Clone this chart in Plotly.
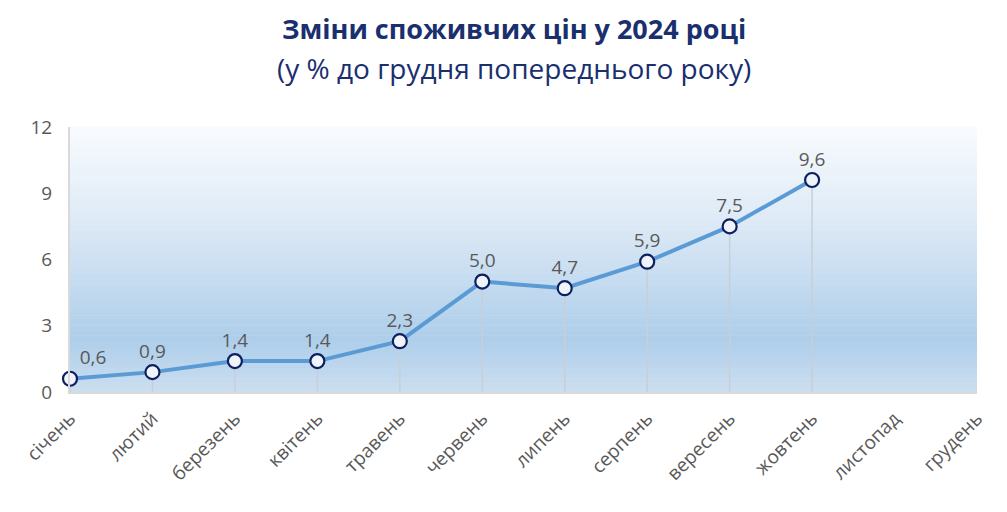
import plotly.graph_objects as go

months = ["січень", "лютий", "березень", "квітень", "травень", "червень",
          "липень", "серпень", "вересень", "жовтень", "листопад", "грудень"]
values = [0.6, 0.9, 1.4, 1.4, 2.3, 5.0, 4.7, 5.9, 7.5, 9.6, None, None]
y_ticks = [0, 3, 6, 9, 12]
title_1 = "Зміни споживчих цін у 2024 році"
title_2 = "(у % до грудня попереднього року)"

labels = [("" if v is None else f"{v:.1f}".replace(".", ",")) for v in values]
positions = ["top right"] + ["top center"] * (len(values) - 1)

fig = go.Figure()

# gradient background of plot area (decoration)
stops = [(0.0, (203, 222, 240)), (0.2, (174, 206, 234)), (0.65, (222, 234, 246)), (1.0, (248, 251, 254))]
def col(t):
    for (t0, c0), (t1, c1) in zip(stops[:-1], stops[1:]):
        if t0 <= t <= t1:
            f = (t - t0) / (t1 - t0)
            return "rgb(%d,%d,%d)" % tuple(round(a + (b - a) * f) for a, b in zip(c0, c1))
    return "rgb(%d,%d,%d)" % stops[-1][1]
N = 80
for i in range(N):
    fig.add_shape(type="rect", xref="x domain", yref="y domain",
                  x0=0, x1=1, y0=i / N, y1=(i + 1) / N + 0.002,
                  fillcolor=col((i + 0.5) / N), line_width=0, layer="below")

# drop lines
fig.add_trace(go.Scatter(
    x=months, y=values, mode="markers",
    marker=dict(size=1, opacity=0),
    error_y=dict(type="data", symmetric=False, array=[0] * len(values),
                 arrayminus=[v if v is not None else 0 for v in values],
                 thickness=1.5, width=0, color="#C9CFD6"),
    hoverinfo="skip", showlegend=False, cliponaxis=False))

fig.add_trace(go.Scatter(
    x=months, y=values, mode="lines+markers+text",
    line=dict(color="#5B9BD5", width=4),
    marker=dict(size=14, color="#EEF4FA", line=dict(color="#0D1F5E", width=2.2)),
    text=labels, textposition=positions,
    textfont=dict(family="Open Sans", size=19, color="#595959"),
    cliponaxis=False, showlegend=False))

fig.add_annotation(text="<b>" + title_1 + "</b>", xref="paper", yref="paper",
                   x=0.49, y=1.37, xanchor="center", yanchor="middle", showarrow=False,
                   font=dict(family="Open Sans", size=27, color="#1A2F6E"))
fig.add_annotation(text=title_2, xref="paper", yref="paper",
                   x=0.49, y=1.222, xanchor="center", yanchor="middle", showarrow=False,
                   font=dict(family="Open Sans", size=28, color="#1A2F6E"))

fig.update_layout(
    width=999, height=504,
    margin=dict(l=62, r=30, t=119, b=120),
    paper_bgcolor="white", plot_bgcolor="white",
    xaxis=dict(type="category", range=[0, 11], showgrid=False, zeroline=False,
               showline=True, linecolor="#D9D9D9", linewidth=2,
               tickangle=-45, ticks="", ticklabelstandoff=6,
               tickfont=dict(family="Open Sans", size=19, color="#595959")),
    yaxis=dict(range=[0, 12], tickvals=y_ticks, showgrid=False, zeroline=False,
               showline=True, linecolor="#D9D9D9", linewidth=2,
               ticks="", ticklabelstandoff=12,
               tickfont=dict(family="Open Sans", size=19, color="#595959")),
)

fig.write_html("out.html")
